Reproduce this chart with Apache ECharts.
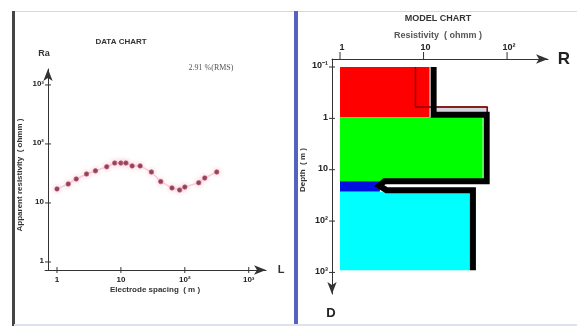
<!DOCTYPE html>
<html><head><meta charset="utf-8">
<script src="https://cdn.jsdelivr.net/npm/echarts@6/dist/echarts.min.js"></script>
<style>html,body{margin:0;padding:0;background:#fff}#c{width:577px;height:329px}</style>
</head><body><div id="c"></div>
<script>
// ---- DATA CHART (sounding curve) ----
const spacing = [1, 1.5, 2, 2.9, 4, 6, 8, 10, 12, 15, 20, 30, 42, 63, 83, 100, 165, 205, 316];
const appRes = [17.3, 21, 25.5, 31, 35, 41, 47.5, 47.5, 47.5, 42.5, 42.5, 33.5, 23, 18, 16.6, 18.6, 22, 26.5, 33.5];
const dataXTicks = [1, 10, 100, 1000];
const dataXTickLabels = ['1', '10', '10²', '10³'];
const dataYTicks = [1, 10, 100, 1000];
const dataYTickLabels = ['1', '10', '10²', '10³'];
const rmsText = '2.91 %(RMS)';

// ---- MODEL CHART (layers) ----
const layerTop = [0.1, 0.95, 16.7, 27];
const layerBottom = [0.95, 16.7, 27, 910];
const layerRes = [11.8, 51, 3.0, 36];
const layerColors = ['#ff0000', '#00ff00', '#0010e0', '#00ffff'];
const modelRes = [13.2, 13.2, 57, 57, 3.4, 2.95, 3.6, 39, 39];
const modelDepth = [0.1, 0.85, 0.85, 16.7, 16.7, 20.5, 25, 25, 910];
const altRes = [8, 8, 58, 58];
const altDepth = [0.1, 0.6, 0.6, 0.85];
const boxRes = [13.5, 58];
const boxDepth = [0.6, 0.85];
const resTicks = [1, 10, 100];
const resTickLabels = ['1', '10', '10²'];
const depthTicks = [0.1, 1, 10, 100, 1000];
const depthTickLabels = ['10⁻¹', '1', '10', '10²', '10³'];

const L = Math.log10;
const FONT = 'Liberation Sans, Arial, sans-serif';
const axisCol = '#333';

function ticks(gridIdx, dim, vals, labels, fixed, cfg) {
  return {
    type: 'custom', xAxisIndex: gridIdx, yAxisIndex: gridIdx, clip: false, silent: true, z: 5,
    data: vals.map((v, i) => dim === 'x' ? [L(v), fixed, i] : [fixed, L(v), i]),
    renderItem: function (params, api) {
      const p = api.coord([api.value(0), api.value(1)]);
      const i = api.value(2);
      const line = dim === 'x'
        ? {x1: p[0], y1: p[1] + cfg.t0, x2: p[0], y2: p[1] + cfg.t1}
        : {x1: p[0] + cfg.t0, y1: p[1], x2: p[0] + cfg.t1, y2: p[1]};
      return {type: 'group', children: [
        {type: 'line', shape: line, style: {stroke: axisCol, lineWidth: 1}},
        {type: 'text', x: p[0] + cfg.lx, y: p[1] + cfg.ly,
          style: {text: labels[i], fill: '#222', font: cfg.font,
            textAlign: cfg.align, align: cfg.align, textVerticalAlign: 'middle', verticalAlign: 'middle'}}
      ]};
    }
  };
}

// left grid ranges
const dxMin = -0.1875, dxMax = 3.27, dyMin = -0.136, dyMax = 3.27;
// right grid ranges
const rxMin = -0.096, rxMax = 2.49, ryMin = -1.156, ryMax = 3.42;

const arrowEnd = {symbol: ['none', 'arrow'], symbolSize: [7, 12], lineStyle: {color: axisCol, width: 1}, onZero: false};
const arrowStart = {symbol: ['arrow', 'none'], symbolSize: [7, 12], lineStyle: {color: axisCol, width: 1}, onZero: false};
const hid = {axisTick: {show: false}, axisLabel: {show: false}, splitLine: {show: false}};
const ctr = {textAlign: 'center', align: 'center', textVerticalAlign: 'middle', verticalAlign: 'middle'};

const option = {
  animation: false,
  backgroundColor: '#ffffff',
  grid: [
    {left: 45, right: 577 - 266, top: 69, bottom: 59},
    {left: 332, right: 577 - 548, top: 59, bottom: 329 - 294}
  ],
  xAxis: [
    Object.assign({type: 'value', gridIndex: 0, min: dxMin, max: dxMax, axisLine: arrowEnd}, hid),
    Object.assign({type: 'value', gridIndex: 1, position: 'top', min: rxMin, max: rxMax, axisLine: arrowEnd}, hid)
  ],
  yAxis: [
    Object.assign({type: 'value', gridIndex: 0, min: dyMin, max: dyMax, offset: -3, axisLine: arrowEnd}, hid),
    Object.assign({type: 'value', gridIndex: 1, inverse: true, min: ryMin, max: ryMax, axisLine: arrowStart}, hid)
  ],
  graphic: [
    {type: 'rect', shape: {x: 14, y: 11, width: 563, height: 1}, style: {fill: '#d8d8d8'}},
    {type: 'rect', shape: {x: 12, y: 11, width: 3, height: 315}, style: {fill: '#444'}},
    {type: 'rect', shape: {x: 294, y: 11, width: 4, height: 315}, style: {fill: '#5563c0'}},
    {type: 'rect', shape: {x: 14, y: 324, width: 563, height: 2}, style: {fill: '#dde2ee'}},
    {type: 'text', x: 121, y: 42, style: Object.assign({text: 'DATA CHART', font: 'bold 8px ' + FONT, fill: '#333'}, ctr)},
    {type: 'text', x: 211, y: 68, style: Object.assign({text: rmsText, font: '8px Liberation Serif, serif', fill: '#555'}, ctr)},
    {type: 'text', x: 44, y: 54, style: Object.assign({text: 'Ra', font: 'bold 9px ' + FONT, fill: '#333'}, ctr)},
    {type: 'text', x: 281, y: 270, style: Object.assign({text: 'L', font: 'bold 11px ' + FONT, fill: '#333'}, ctr)},
    {type: 'text', x: 155, y: 290, style: Object.assign({text: 'Electrode spacing  ( m )', font: 'bold 8px ' + FONT, fill: '#333'}, ctr)},
    {type: 'text', x: 20, y: 175, rotation: Math.PI / 2, style: Object.assign({text: 'Apparent resistivity  ( ohmm )', font: 'bold 8px ' + FONT, fill: '#333'}, ctr)},
    {type: 'text', x: 438, y: 19, style: Object.assign({text: 'MODEL CHART', font: 'bold 9px ' + FONT, fill: '#333'}, ctr)},
    {type: 'text', x: 438, y: 36, style: Object.assign({text: 'Resistivity  ( ohmm )', font: 'bold 9px ' + FONT, fill: '#555'}, ctr)},
    {type: 'text', x: 564, y: 59, style: Object.assign({text: 'R', font: 'bold 17px ' + FONT, fill: '#222'}, ctr)},
    {type: 'text', x: 331, y: 313, style: Object.assign({text: 'D', font: 'bold 13px ' + FONT, fill: '#222'}, ctr)},
    {type: 'text', x: 303, y: 170, rotation: Math.PI / 2, style: Object.assign({text: 'Depth  ( m )', font: 'bold 8px ' + FONT, fill: '#333'}, ctr)}
  ],
  series: [
    // data chart
    {type: 'line', xAxisIndex: 0, yAxisIndex: 0, data: spacing.map((x, i) => [L(x), L(appRes[i])]),
      symbol: 'none', lineStyle: {color: '#f8d2dc', width: 1.5}, z: 2, silent: true},
    {type: 'scatter', xAxisIndex: 0, yAxisIndex: 0, data: spacing.map((x, i) => [L(x), L(appRes[i])]),
      symbolSize: 4.5, itemStyle: {color: '#5e0f2a', borderColor: '#c05070', borderWidth: 0.8, shadowColor: '#f2a8bc', shadowBlur: 5}, z: 3, silent: true},
    ticks(0, 'x', dataXTicks, dataXTickLabels, dyMin, {t0: -3, t1: 3, lx: 0, ly: 10, align: 'center', font: 'bold 8px ' + FONT}),
    ticks(0, 'y', dataYTicks, dataYTickLabels, dxMin, {t0: 0, t1: 6, lx: -1, ly: -1, align: 'right', font: 'bold 8px ' + FONT}),
    // model chart layers
    {type: 'custom', xAxisIndex: 1, yAxisIndex: 1, silent: true, z: 1,
      data: layerRes.map((r, i) => [L(r), L(layerTop[i]), L(layerBottom[i]), i]),
      renderItem: function (params, api) {
        const a = api.coord([0, api.value(1)]);
        const b = api.coord([api.value(0), api.value(2)]);
        return {type: 'rect', shape: {x: a[0], y: a[1], width: b[0] - a[0], height: b[1] - a[1]},
          style: {fill: layerColors[api.value(3)]}};
      }},
    {type: 'custom', xAxisIndex: 1, yAxisIndex: 1, silent: true, z: 2,
      data: [[L(boxRes[0]), L(boxDepth[0]), L(boxRes[1]), L(boxDepth[1])]],
      renderItem: function (params, api) {
        const a = api.coord([api.value(0), api.value(1)]);
        const b = api.coord([api.value(2), api.value(3)]);
        return {type: 'rect', shape: {x: a[0], y: a[1], width: b[0] - a[0], height: b[1] - a[1]},
          style: {fill: '#d4d4dc', stroke: '#111', lineWidth: 1}};
      }},
    {type: 'line', xAxisIndex: 1, yAxisIndex: 1, data: altRes.map((r, i) => [L(r), L(altDepth[i])]),
      symbol: 'none', lineStyle: {color: '#8a0000', width: 1.5}, z: 3, silent: true},
    {type: 'line', xAxisIndex: 1, yAxisIndex: 1, data: modelRes.map((r, i) => [L(r), L(modelDepth[i])]),
      symbol: 'none', lineStyle: {color: '#000', width: 6, join: 'miter'}, z: 4, silent: true},
    ticks(1, 'x', resTicks, resTickLabels, ryMin, {t0: -7, t1: 0, lx: 2, ly: -11, align: 'center', font: 'bold 9px ' + FONT}),
    ticks(1, 'y', depthTicks, depthTickLabels, rxMin, {t0: -3, t1: 3, lx: -4, ly: -1, align: 'right', font: 'bold 9px ' + FONT})
  ]
};
echarts.init(document.getElementById('c'), null, {renderer: 'canvas'}).setOption(option);
</script>
</body></html>
